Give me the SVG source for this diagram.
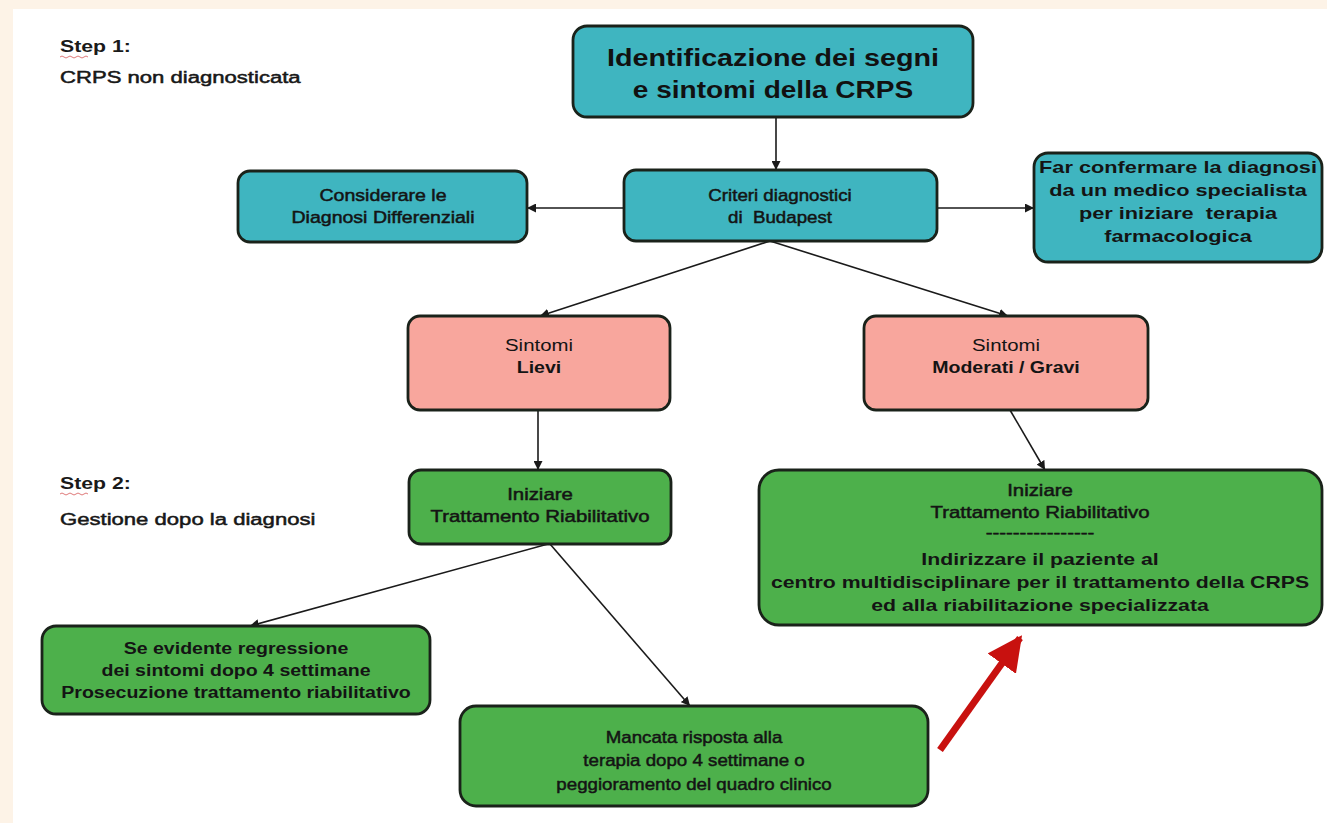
<svg xmlns="http://www.w3.org/2000/svg" width="1327" height="823" viewBox="0 0 1327 823">
<defs>
<style>
.box{stroke:#1a221a;stroke-width:2.8}
.teal{fill:#3fb5c0}
.pink{fill:#f8a69d}
.green{fill:#4db04b}
.t{font-family:"Liberation Sans",Arial,Helvetica,sans-serif;font-size:17px;fill:#141414;text-anchor:middle;white-space:pre}
.b{font-weight:bold}
.h{stroke:#141414;stroke-width:0.5}
.title{font-family:"Liberation Sans",Arial,Helvetica,sans-serif;font-size:23px;font-weight:bold;fill:#111;text-anchor:middle}
.side{font-family:"Liberation Sans",Arial,Helvetica,sans-serif;font-size:17px;fill:#1a1a1a}
.conn{stroke:#1a1a1a;stroke-width:1.6;fill:none}
</style>
<marker id="ah" viewBox="0 0 10 10" refX="10" refY="5" markerWidth="9" markerHeight="9" markerUnits="userSpaceOnUse" orient="auto">
<path d="M0,0 L10,5 L0,10 z" fill="#1a1a1a"/>
</marker>
<marker id="rh" viewBox="0 0 10 10" refX="9" refY="5" markerWidth="5" markerHeight="5" orient="auto">
<path d="M0,0 L10,5 L0,10 z" fill="#c8110f"/>
</marker>
</defs>
<rect x="0" y="0" width="1327" height="823" fill="#fdf3e7"/>
<rect x="13" y="9" width="1314" height="814" fill="#ffffff"/>

<g id="labels">
<text class="side b" transform="translate(60,52) scale(1.25 1)">Step 1:</text>
<path d="M60,57 q2,-2 4,0 t4,0 t4,0 t4,0 t4,0 t4,0 t4,0" stroke="#d04040" stroke-width="1" fill="none" opacity="0.7"/>
<text class="side h" transform="translate(60,83) scale(1.3 1)">CRPS non diagnosticata</text>
<text class="side b" transform="translate(60,489) scale(1.25 1)">Step 2:</text>
<path d="M60,494 q2,-2 4,0 t4,0 t4,0 t4,0 t4,0 t4,0 t4,0" stroke="#d04040" stroke-width="1" fill="none" opacity="0.7"/>
<text class="side h" transform="translate(60,525) scale(1.3 1)">Gestione dopo la diagnosi</text>
</g>

<g id="connectors">
<line class="conn" x1="776" y1="117" x2="776" y2="170" marker-end="url(#ah)"/>
<line class="conn" x1="624" y1="208" x2="527" y2="208" marker-end="url(#ah)"/>
<line class="conn" x1="937" y1="208" x2="1034" y2="208" marker-end="url(#ah)"/>
<line class="conn" x1="770" y1="241" x2="540" y2="316" marker-end="url(#ah)"/>
<line class="conn" x1="770" y1="241" x2="1008" y2="316" marker-end="url(#ah)"/>
<line class="conn" x1="538" y1="410" x2="538" y2="470" marker-end="url(#ah)"/>
<line class="conn" x1="1010" y1="410" x2="1045" y2="470" marker-end="url(#ah)"/>
<line class="conn" x1="548" y1="544" x2="250" y2="626" marker-end="url(#ah)"/>
<line class="conn" x1="550" y1="544" x2="690" y2="706" marker-end="url(#ah)"/>
<line x1="940" y1="750" x2="1020" y2="638" stroke="#c8110f" stroke-width="7" marker-end="url(#rh)"/>
</g>

<g id="n-identificazione">
<rect class="box teal" x="573" y="26" width="400" height="91" rx="14"/>
<text class="title" transform="translate(773,66) scale(1.25 1)">Identificazione dei segni</text>
<text class="title" transform="translate(773,98) scale(1.22 1)">e sintomi della CRPS</text>
</g>

<g id="n-criteri">
<rect class="box teal" x="624" y="170" width="313" height="71" rx="12"/>
<text class="t h" transform="translate(780,201) scale(1.1 1)">Criteri diagnostici</text>
<text class="t h" xml:space="preserve" transform="translate(780,223) scale(1.1 1)">di  Budapest</text>
</g>

<g id="n-considerare">
<rect class="box teal" x="238" y="171" width="289" height="71" rx="12"/>
<text class="t h" transform="translate(383,201) scale(1.15 1)">Considerare le</text>
<text class="t h" transform="translate(383,223) scale(1.15 1)">Diagnosi Differenziali</text>
</g>

<g id="n-confermare">
<rect class="box teal" x="1034" y="153" width="288" height="109" rx="14"/>
<text class="t b" transform="translate(1178,173) scale(1.28 1)">Far confermare la diagnosi</text>
<text class="t b" transform="translate(1178,196) scale(1.28 1)">da un medico specialista</text>
<text class="t b" xml:space="preserve" transform="translate(1178,219) scale(1.28 1)">per iniziare  terapia</text>
<text class="t b" transform="translate(1178,242) scale(1.28 1)">farmacologica</text>
</g>

<g id="n-lievi">
<rect class="box pink" x="408" y="316" width="262" height="94" rx="12"/>
<text class="t" transform="translate(539,351) scale(1.2 1)">Sintomi</text>
<text class="t b" transform="translate(539,373) scale(1.15 1)">Lievi</text>
</g>

<g id="n-moderati">
<rect class="box pink" x="864" y="316" width="284" height="94" rx="12"/>
<text class="t" transform="translate(1006,351) scale(1.2 1)">Sintomi</text>
<text class="t b" transform="translate(1006,373) scale(1.15 1)">Moderati / Gravi</text>
</g>

<g id="n-iniziare">
<rect class="box green" x="409" y="470" width="262" height="74" rx="12"/>
<text class="t h" transform="translate(540,500) scale(1.2 1)">Iniziare</text>
<text class="t h" transform="translate(540,522) scale(1.2 1)">Trattamento Riabilitativo</text>
</g>

<g id="n-centro">
<rect class="box green" x="759" y="470" width="563" height="155" rx="20"/>
<text class="t h" transform="translate(1040,496) scale(1.2 1)">Iniziare</text>
<text class="t h" transform="translate(1040,518) scale(1.2 1)">Trattamento Riabilitativo</text>
<text class="t h" transform="translate(1040,538) scale(1.2 1)">----------------</text>
<text class="t b" transform="translate(1040,565) scale(1.25 1)">Indirizzare il paziente al</text>
<text class="t b" transform="translate(1040,588) scale(1.25 1)">centro multidisciplinare per il trattamento della CRPS</text>
<text class="t b" transform="translate(1040,611) scale(1.25 1)">ed alla riabilitazione specializzata</text>
</g>

<g id="n-regressione">
<rect class="box green" x="42" y="626" width="388" height="88" rx="14"/>
<text class="t b" transform="translate(236,654) scale(1.15 1)">Se evidente regressione</text>
<text class="t b" transform="translate(236,676) scale(1.15 1)">dei sintomi dopo 4 settimane</text>
<text class="t b" transform="translate(236,698) scale(1.15 1)">Prosecuzione trattamento riabilitativo</text>
</g>

<g id="n-mancata">
<rect class="box green" x="460" y="706" width="468" height="100" rx="16"/>
<text class="t h" transform="translate(694,743) scale(1.1 1)">Mancata risposta alla</text>
<text class="t h" transform="translate(694,766) scale(1.1 1)">terapia dopo 4 settimane o</text>
<text class="t h" transform="translate(694,790) scale(1.1 1)">peggioramento del quadro clinico</text>
</g>
</svg>
